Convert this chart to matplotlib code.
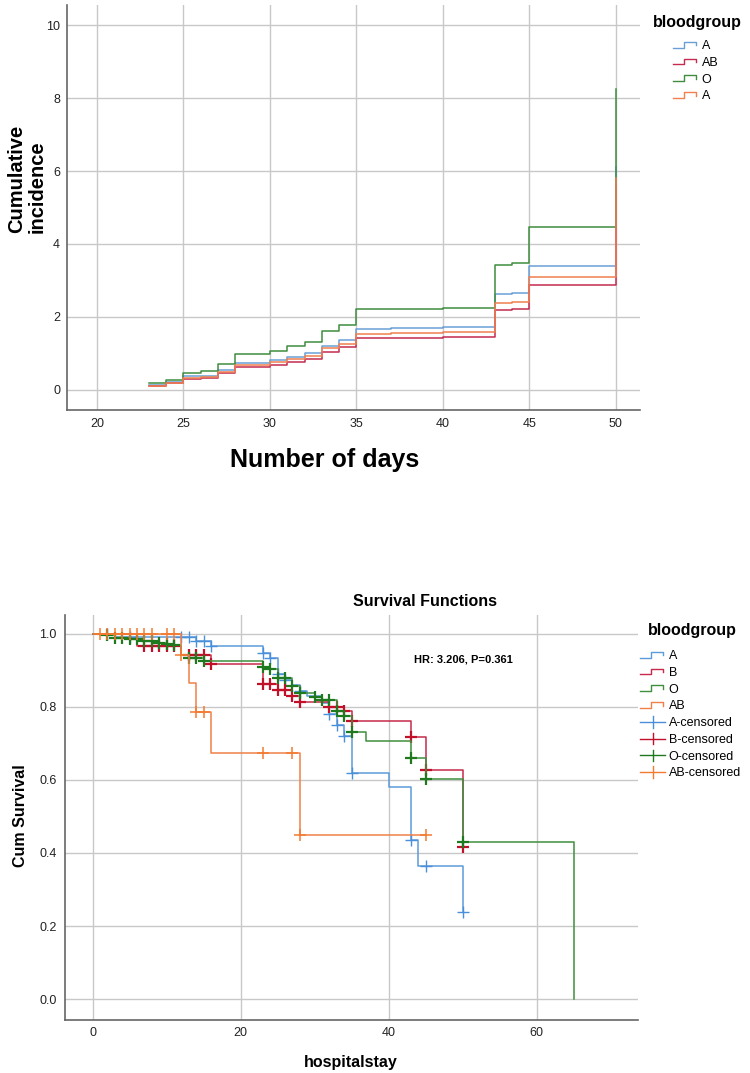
import numpy as np
import matplotlib
matplotlib.use('Agg')
import matplotlib.pyplot as plt
from matplotlib.lines import Line2D
from matplotlib.legend_handler import HandlerBase
from matplotlib import font_manager

names = {f.name for f in font_manager.fontManager.ttflist}
tick_font = 'Liberation Sans Narrow' if 'Liberation Sans Narrow' in names else 'Liberation Sans'
plt.rcParams['font.family'] = ['Liberation Sans', 'DejaVu Sans']

# ---- top chart: cumulative incidence by blood group ----
days = [23, 24, 25, 26, 27, 28, 30, 31, 32, 33, 34, 35, 37, 40, 43, 44, 45, 50]
inc_A = [0.15, 0.22, 0.37, 0.39, 0.55, 0.73, 0.82, 0.91, 1.00, 1.21, 1.37, 1.68, 1.70, 1.73, 2.62, 2.65, 3.40, 6.1]
inc_AB = [0.11, 0.18, 0.29, 0.34, 0.46, 0.64, 0.68, 0.78, 0.86, 1.05, 1.19, 1.42, 1.43, 1.45, 2.19, 2.23, 2.87, 5.6]
inc_O = [0.18, 0.27, 0.46, 0.51, 0.72, 0.98, 1.08, 1.20, 1.32, 1.61, 1.79, 2.21, 2.23, 2.25, 3.43, 3.49, 4.47, 8.25]
inc_A2 = [0.12, 0.19, 0.33, 0.36, 0.49, 0.68, 0.76, 0.84, 0.93, 1.14, 1.26, 1.53, 1.55, 1.58, 2.39, 2.42, 3.10, 5.8]
top_labels = ['A', 'AB', 'O', 'A']
top_colors = ['#6a9fd6', '#c42b50', '#3f8c3f', '#f08050']

# ---- bottom chart: Kaplan-Meier survival by blood group ----
A_t = [0, 3, 14, 16, 23, 24, 25, 26, 27, 28, 29, 31, 32, 33, 34, 35, 40, 43, 44, 50]
A_s = [1.0, 0.992, 0.98, 0.967, 0.948, 0.933, 0.89, 0.875, 0.86, 0.845, 0.83, 0.81, 0.78, 0.75,
       0.72, 0.618, 0.582, 0.436, 0.365, 0.239]
A_end = 50
A_cens = [2, 5, 12, 13, 14, 15, 16, 23, 24, 25, 26, 28, 32, 33, 34, 35, 43, 45, 50]

B_t = [0, 6, 12, 16, 23, 25, 27, 28, 32, 34, 35, 43, 45, 50]
B_s = [1.0, 0.967, 0.942, 0.917, 0.863, 0.847, 0.83, 0.815, 0.80, 0.79, 0.762, 0.719, 0.627, 0.417]
B_end = 50
B_cens = [7, 8, 9, 10, 11, 13, 14, 15, 16, 23, 24, 25, 26, 27, 28, 32, 33, 34, 35, 43, 45, 50]

O_t = [0, 1, 3, 5, 7, 9, 10, 11, 12, 13, 15, 23, 24, 25, 27, 28, 30, 31, 33, 34, 35, 37, 43, 45, 50, 65]
O_s = [1.0, 0.996, 0.99, 0.985, 0.98, 0.976, 0.972, 0.97, 0.942, 0.933, 0.925, 0.91, 0.903, 0.88,
       0.858, 0.837, 0.827, 0.82, 0.79, 0.774, 0.732, 0.708, 0.66, 0.603, 0.431, 0.0]
O_end = 65
O_cens = [2, 3, 4, 5, 6, 7, 8, 9, 10, 11, 13, 14, 15, 23, 24, 25, 26, 27, 28, 30, 31, 32, 33, 34, 35, 43, 45, 50]

AB_t = [0, 12, 13, 14, 16, 28]
AB_s = [1.0, 0.943, 0.865, 0.785, 0.674, 0.449]
AB_end = 45
AB_cens = [1, 2, 3, 4, 5, 6, 7, 8, 10, 11, 12, 14, 15, 23, 27, 28, 45]

groups = ['A', 'B', 'O', 'AB']
line_colors = ['#5c9bd9', '#c8294a', '#3f8f3f', '#f08048']
cens_colors = ['#4a8fdb', '#c0102a', '#1f7a1f', '#f47a30']
cens_width = [1.0, 1.6, 1.6, 1.1]


class StepHandler(HandlerBase):
    def create_artists(self, legend, orig_handle, xdescent, ydescent, width, height, fontsize, trans):
        xs = np.array([0, 0.45, 0.45, 0.9, 0.9]) * width - xdescent
        ys = np.array([0.2, 0.2, 0.8, 0.8, 0.45]) * height - ydescent
        return [Line2D(xs, ys, color=orig_handle.get_color(), lw=1.0, transform=trans)]


class CensorHandler(HandlerBase):
    def create_artists(self, legend, orig_handle, xdescent, ydescent, width, height, fontsize, trans):
        c = orig_handle.get_color()
        h = Line2D([-xdescent, width - xdescent], [0.5 * height - ydescent] * 2, color=c, lw=1.0, transform=trans)
        v = Line2D([0.5 * width - xdescent] * 2, [-0.1 * height - ydescent, 1.1 * height - ydescent],
                   color=c, lw=1.0, transform=trans)
        return [h, v]


def style_axes(ax):
    for s in ['top', 'right']:
        ax.spines[s].set_visible(False)
    for s in ['left', 'bottom']:
        ax.spines[s].set_color('#666666')
        ax.spines[s].set_linewidth(1.2)
    ax.grid(True, color='#c8c8c8', lw=1.0)
    ax.set_axisbelow(True)
    ax.tick_params(length=0, labelsize=9, colors='#222222')
    for lab in ax.get_xticklabels() + ax.get_yticklabels():
        lab.set_family(tick_font)


fig = plt.figure(figsize=(7.5, 10.73), dpi=100)
W, H = 750.0, 1073.0

# top axes
ax1 = fig.add_axes([67 / W, 1 - 410 / H, (640 - 67) / W, (410 - 5) / H])
top_series = [inc_A, inc_AB, inc_O, inc_A2]
top_handles = []
for vals, col in zip(top_series, top_colors):
    ln, = ax1.step(days, vals, where='post', color=col, lw=1.1)
    top_handles.append(ln)
ax1.set_xlim(18.27, 51.39)
ax1.set_ylim(-0.548, 10.548)
ax1.set_xticks([20, 25, 30, 35, 40, 45, 50])
ax1.set_yticks([0, 2, 4, 6, 8, 10])
style_axes(ax1)
ax1.tick_params(axis='y', pad=5)
ax1.tick_params(axis='x', pad=6)

fig.text(27 / W, 1 - 233 / H, 'Cumulative\nincidence', rotation=90, ha='center', va='bottom',
         multialignment='left', fontsize=14.5, fontweight='bold', linespacing=1.1)
fig.text(325 / W, 1 - 460 / H, 'Number of days', ha='center', va='center', fontsize=18, fontweight='bold')
fig.text(653 / W, 1 - 22 / H, 'bloodgroup', ha='left', va='center', fontsize=11.5, fontweight='bold')
ax1.legend(top_handles, top_labels, loc='upper left', bbox_to_anchor=(673 / W, 1 - 40 / H),
           bbox_transform=fig.transFigure, frameon=False, borderpad=0, borderaxespad=0,
           handlelength=2.0, handleheight=0.8, handletextpad=0.3, labelspacing=0.37, fontsize=9,
           handler_map={h: StepHandler() for h in top_handles})

# bottom axes
ax2 = fig.add_axes([65 / W, 1 - 1020 / H, (638 - 65) / W, (1020 - 615) / H])
curves = [(A_t, A_s, A_end, A_cens), (B_t, B_s, B_end, B_cens),
          (O_t, O_s, O_end, O_cens), (AB_t, AB_s, AB_end, AB_cens)]
step_handles = []
cens_handles = []
for (t, s, end, cens), lc, cc, cw in zip(curves, line_colors, cens_colors, cens_width):
    tt = list(t) + ([end] if end > t[-1] else [])
    ss = list(s) + ([s[-1]] if end > t[-1] else [])
    ln, = ax2.step(tt, ss, where='post', color=lc, lw=1.1)
    step_handles.append(ln)
    idx = np.searchsorted(t, cens, side='right') - 1
    cy = np.array(s)[idx]
    ax2.plot(cens, cy, ls='none', marker='+', ms=8, mew=cw, color=cc)
    cens_handles.append(Line2D([], [], color=cc))
ax2.set_xlim(-3.72, 73.7)
ax2.set_ylim(-0.0575, 1.052)
ax2.set_xticks([0, 20, 40, 60])
ax2.set_yticks([0.0, 0.2, 0.4, 0.6, 0.8, 1.0])
ax2.set_yticklabels(['0.0', '0.2', '0.4', '0.6', '0.8', '1.0'])
style_axes(ax2)
ax2.tick_params(axis='y', pad=6)
ax2.tick_params(axis='x', pad=5)
ax2.text(43.4, 0.93, 'HR: 3.206, P=0.361', ha='left', va='center', fontsize=8, fontweight='bold')

fig.text(425 / W, 1 - 601 / H, 'Survival Functions', ha='center', va='center', fontsize=11.5, fontweight='bold')
fig.text(351 / W, 1 - 1062 / H, 'hospitalstay', ha='center', va='center', fontsize=11.5, fontweight='bold')
fig.text(21 / W, 1 - 816 / H, 'Cum Survival', rotation=90, ha='center', va='center', fontsize=11.5,
         fontweight='bold')
fig.text(648 / W, 1 - 630 / H, 'bloodgroup', ha='left', va='center', fontsize=11.5, fontweight='bold')
hmap = {h: StepHandler() for h in step_handles}
hmap.update({h: CensorHandler() for h in cens_handles})
ax2.legend(step_handles + cens_handles, groups + [g + '-censored' for g in groups], loc='upper left',
           bbox_to_anchor=(640 / W, 1 - 650 / H), bbox_transform=fig.transFigure, frameon=False,
           borderpad=0, borderaxespad=0, handlelength=2.0, handleheight=0.8, handletextpad=0.3,
           labelspacing=0.37, fontsize=9, handler_map=hmap)

fig.savefig('out.png', dpi=100)
